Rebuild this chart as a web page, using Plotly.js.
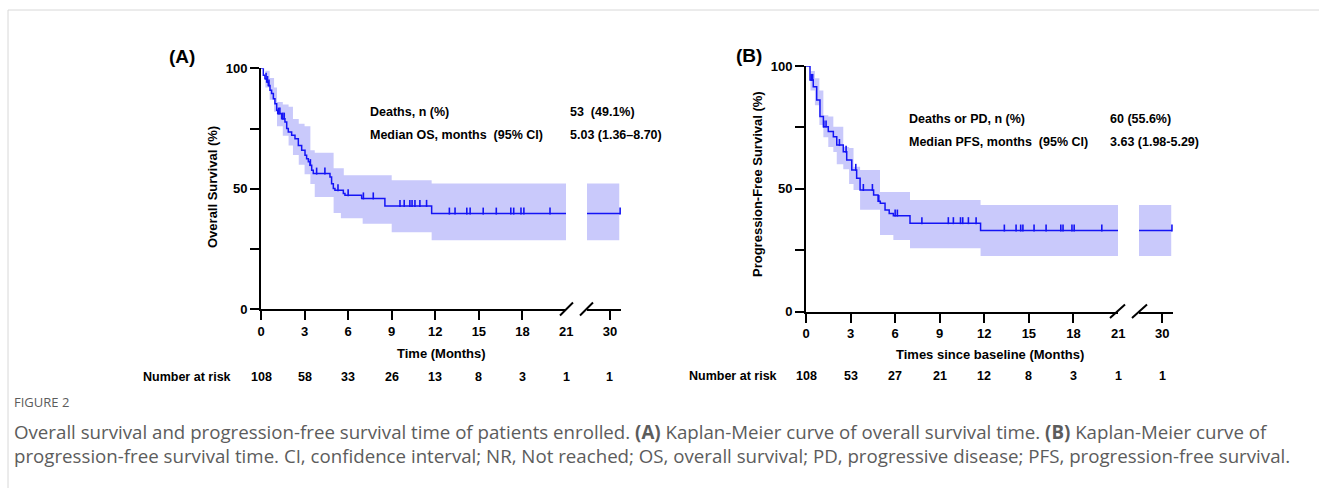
<!DOCTYPE html>
<html>
<head>
<meta charset="utf-8">
<script src="https://cdn.plot.ly/plotly-3.0.1.min.js"></script>
<style>html,body{margin:0;padding:0;background:#fff;}#chart{width:1319px;height:488px;}</style>
</head>
<body>
<div id="chart"></div>
<script>
// ---------- Panel A: overall survival ----------
const osTime = [0, 0.16, 0.27, 0.39, 0.50, 0.62, 0.73, 0.85, 0.96, 1.08, 1.15, 1.42, 1.65, 1.77, 1.88, 2.11, 2.34, 2.57, 2.80, 3.03, 3.14, 3.26, 3.37, 3.49, 3.60, 4.75, 4.86, 4.98, 5.09, 5.67, 5.78, 6.93, 8.53, 11.75, 30.7];
const osSurv = [100, 97.1, 95.7, 94.3, 92.9, 90.9, 89.5, 87.4, 85.3, 82.6, 81.2, 79.1, 77.7, 75.0, 73.6, 72.2, 70.8, 68.0, 66.0, 63.9, 62.5, 61.2, 59.8, 57.7, 56.3, 54.9, 52.1, 50.1, 49.4, 48.0, 47.3, 46.0, 42.9, 39.7, 39.7];
const osCiTime  = [0, 0.3, 0.6, 0.9, 1.1, 1.5, 1.9, 2.2, 2.6, 3.0, 3.4, 3.7, 4.6, 5.0, 5.5, 5.7, 7.0, 9.0, 11.75, 30.64];
const osCiUpper = [100, 99, 96, 92, 86, 85, 84, 79, 77, 76, 66, 65, 65, 58.5, 58.5, 55.6, 55.6, 53.5, 52.2, 52.2];
const osCiLower = [100, 92, 87, 82, 76, 72, 68, 64, 60, 56, 52, 46.6, 46.6, 40, 37.8, 37.8, 35.5, 32, 28.6, 28.6];
const osCensTime = [0.35, 0.45, 0.55, 1.2, 1.3, 1.5, 1.6, 3.4, 3.83, 4.4, 5.3, 6.0, 7.05, 7.73, 9.57, 9.86, 10.25, 10.4, 10.6, 10.94, 11.4, 12.97, 13.36, 14.17, 14.4, 15.3, 16.2, 17.2, 17.4, 17.9, 18.1, 19.9, 30.7];
const osCensSurv = [95.7, 94.3, 92.9, 81.2, 81.2, 79.1, 79.1, 59.8, 56.3, 56.3, 49.4, 47.3, 46.0, 46.0, 42.9, 42.9, 42.9, 42.9, 42.9, 42.9, 42.9, 39.7, 39.7, 39.7, 39.7, 39.7, 39.7, 39.7, 39.7, 39.7, 39.7, 39.7, 39.7];
const osRiskTimes = [0, 3, 6, 9, 12, 15, 18, 21, 30];
const osAtRisk = [108, 58, 33, 26, 13, 8, 3, 1, 1];

// ---------- Panel B: progression-free survival ----------
const pfsTime = [0, 0.27, 0.49, 0.72, 0.94, 1.17, 1.5, 1.84, 2.07, 2.51, 2.74, 3.08, 3.41, 3.64, 4.55, 4.85, 5.0, 5.32, 5.6, 5.88, 7.0, 11.75, 30.65];
const pfsSurv = [100, 94.3, 91.6, 86.2, 79.4, 75.3, 73.3, 71.2, 67.8, 65.1, 61.7, 57.7, 54.3, 49.5, 47.5, 45.0, 44.1, 41.4, 40.0, 39.1, 36.0, 33.0, 33.0];
const pfsCiTime  = [0, 0.3, 0.6, 0.9, 1.17, 1.5, 1.84, 2.07, 2.51, 2.9, 3.2, 3.64, 4.98, 5.88, 7.0, 11.75, 30.6];
const pfsCiUpper = [100, 98, 95, 90, 80, 79.4, 75.3, 75.3, 67, 66.6, 59, 57.7, 48.7, 48.7, 45.5, 43.4, 43.4];
const pfsCiLower = [100, 90, 84, 76, 71, 67, 65, 60, 58, 52, 49.5, 41.5, 31.2, 29.2, 25.8, 22.7, 22.7];
const pfsCensTime = [0.35, 0.45, 1.2, 1.35, 2.25, 2.7, 3.35, 3.86, 4.47, 4.9, 6.0, 6.15, 7.8, 9.58, 9.92, 10.4, 10.55, 10.93, 11.45, 13.35, 14.14, 14.45, 14.6, 15.35, 16.16, 17.15, 17.3, 17.9, 18.05, 19.91, 30.65];
const pfsCensSurv = [94.3, 94.3, 75.3, 75.3, 67.8, 65.1, 57.7, 49.5, 49.5, 45.0, 39.1, 39.1, 36, 36, 36, 36, 36, 36, 36, 33, 33, 33, 33, 33, 33, 33, 33, 33, 33, 33, 33];
const pfsRiskTimes = [0, 3, 6, 9, 12, 15, 18, 21, 30];
const pfsAtRisk = [108, 53, 27, 21, 12, 8, 3, 1, 1];

const xTicks = [0, 3, 6, 9, 12, 15, 18];
const yTicks = [0, 25, 50, 75, 100];
const yTickText = ['0', '', '50', '', '100'];

// ---------- helpers ----------
const W = 1319, H = 488;
const PX = x => x / W;
const PY = y => 1 - y / H;
const BLUE = '#1414f5';
const BAND = '#c9c9fb';
const FONT = 'Liberation Sans, Arial, Helvetica, sans-serif';
const NB = '\u00A0';
const TICK_LIFT = 1.05; // censor ticks drawn just above the curve (in % units)

function panelTraces(t, s, ct, cu, cl, kt, ks, xa, ya) {
  return [
    {x: ct, y: cl, xaxis: xa, yaxis: ya, type: 'scatter', mode: 'lines', line: {shape: 'hv', width: 0, color: 'rgba(0,0,0,0)'}, hoverinfo: 'skip'},
    {x: ct, y: cu, xaxis: xa, yaxis: ya, type: 'scatter', mode: 'lines', fill: 'tonexty', fillcolor: BAND, line: {shape: 'hv', width: 0, color: 'rgba(0,0,0,0)'}, hoverinfo: 'skip'},
    {x: t, y: s, xaxis: xa, yaxis: ya, type: 'scatter', mode: 'lines', line: {shape: 'hv', width: 1.5, color: BLUE}},
    {x: kt, y: ks.map(v => v + TICK_LIFT), xaxis: xa, yaxis: ya, type: 'scatter', mode: 'markers', marker: {symbol: 'line-ns-open', size: 5, color: BLUE, line: {width: 1.6, color: BLUE}}, cliponaxis: false}
  ];
}

const data = [].concat(
  panelTraces(osTime, osSurv, osCiTime, osCiUpper, osCiLower, osCensTime, osCensSurv, 'x', 'y'),
  panelTraces(osTime, osSurv, osCiTime, osCiUpper, osCiLower, osCensTime, osCensSurv, 'x2', 'y'),
  panelTraces(pfsTime, pfsSurv, pfsCiTime, pfsCiUpper, pfsCiLower, pfsCensTime, pfsCensSurv, 'x3', 'y2'),
  panelTraces(pfsTime, pfsSurv, pfsCiTime, pfsCiUpper, pfsCiLower, pfsCensTime, pfsCensSurv, 'x4', 'y2')
);

const tickFont = {family: FONT, size: 13, color: '#000', weight: 'bold'};
function xAxis(domain, range, vals, anchor) {
  return {domain: domain, range: range, anchor: anchor, tickvals: vals, ticktext: vals.map(String),
    showline: true, linewidth: 2, linecolor: '#000', ticks: 'outside', ticklen: 9, tickwidth: 2, tickcolor: '#000',
    showgrid: false, zeroline: false, fixedrange: true, tickfont: tickFont};
}
function yAxis(domain, anchor) {
  return {domain: domain, range: [0, 100], anchor: anchor, tickvals: yTicks, ticktext: yTickText,
    showline: true, linewidth: 2, linecolor: '#000', ticks: 'outside', ticklen: 9, tickwidth: 2, tickcolor: '#000',
    showgrid: false, zeroline: false, fixedrange: true, tickfont: tickFont};
}

const ann = [];
const bold = (size) => ({family: FONT, size: size, color: '#000', weight: 'bold'});
function txt(x, y, text, opts) {
  ann.push(Object.assign({x: x, y: y, xref: 'paper', yref: 'paper', text: text, showarrow: false,
    xanchor: 'center', yanchor: 'middle', font: bold(12.5)}, opts || {}));
}
// panel letters
txt(PX(182), PY(56), '(A)', {font: bold(19)});
txt(PX(749), PY(55), '(B)', {font: bold(19)});
// stats
txt(PX(368), PY(112), 'Deaths, n (%)', {xanchor: 'left'});
txt(PX(568), PY(112), '53' + NB + NB + '(49.1%)', {xanchor: 'left'});
txt(PX(368), PY(135), 'Median OS, months' + NB + NB + '(95% CI)', {xanchor: 'left'});
txt(PX(568), PY(135), '5.03 (1.36–8.70)', {xanchor: 'left'});
txt(PX(907), PY(119), 'Deaths or PD, n (%)', {xanchor: 'left'});
txt(PX(1108), PY(119), '60 (55.6%)', {xanchor: 'left'});
txt(PX(907), PY(142), 'Median PFS, months' + NB + NB + '(95% CI)', {xanchor: 'left'});
txt(PX(1108), PY(142), '3.63 (1.98-5.29)', {xanchor: 'left'});
// axis titles
txt(PX(212), PY(187), 'Overall Survival (%)', {textangle: -90, font: bold(13)});
txt(PX(757), PY(184), 'Progression-Free Survival (%)', {textangle: -90, font: bold(13)});
txt(PX(441), PY(353), 'Time (Months)', {font: bold(13)});
txt(PX(990), PY(354), 'Times since baseline (Months)', {font: bold(13)});
// 21 labels (no tick mark at the break)
ann.push({x: 21, xref: 'x', y: PY(331), yref: 'paper', text: '21', showarrow: false, font: tickFont, xanchor: 'center', yanchor: 'middle'});
ann.push({x: 21, xref: 'x3', y: PY(333), yref: 'paper', text: '21', showarrow: false, font: tickFont, xanchor: 'center', yanchor: 'middle'});
// number at risk
txt(PX(233), PY(377), 'Number at risk', {xanchor: 'right'});
txt(PX(687), PY(376), 'Number at risk', {xanchor: 'left'});
osRiskTimes.forEach((t, i) => ann.push({x: t, xref: t > 21 ? 'x2' : 'x', y: PY(377), yref: 'paper', text: String(osAtRisk[i]),
  showarrow: false, xanchor: 'center', yanchor: 'middle', font: bold(12.5)}));
pfsRiskTimes.forEach((t, i) => ann.push({x: t, xref: t > 21 ? 'x4' : 'x3', y: PY(376), yref: 'paper', text: String(pfsAtRisk[i]),
  showarrow: false, xanchor: 'center', yanchor: 'middle', font: bold(12.5)}));
// caption
const CAP = 'Open Sans, Noto Sans, sans-serif';
const CAPCOL = '#5c5c5c';
txt(PX(12), PY(402), 'FIGURE 2', {xanchor: 'left', font: {family: CAP, size: 13, color: CAPCOL, weight: 'normal'}});
txt(PX(12), PY(431), 'Overall survival and progression-free survival time of patients enrolled. <b>(A)</b> Kaplan-Meier curve of overall survival time. <b>(B)</b> Kaplan-Meier curve of',
  {xanchor: 'left', font: {family: CAP, size: 18.7, color: CAPCOL, weight: 'normal'}});
txt(PX(12), PY(455), 'progression-free survival time. CI, confidence interval; NR, Not reached; OS, overall survival; PD, progressive disease; PFS, progression-free survival.',
  {xanchor: 'left', font: {family: CAP, size: 18.7, color: CAPCOL, weight: 'normal'}});

// axis break slashes and frame
const shapes = [
  {type: 'rect', xref: 'paper', yref: 'paper', x0: PX(8), y0: PY(10), x1: PX(1330), y1: PY(500), line: {color: '#d8d8d8', width: 1}},
  {type: 'line', xref: 'paper', yref: 'paper', x0: PX(560), y0: PY(315.5), x1: PX(573), y1: PY(302.5), line: {color: '#000', width: 2}},
  {type: 'line', xref: 'paper', yref: 'paper', x0: PX(580), y0: PY(315.5), x1: PX(593), y1: PY(302.5), line: {color: '#000', width: 2}},
  {type: 'line', xref: 'paper', yref: 'paper', x0: PX(1110), y0: PY(318), x1: PX(1125), y1: PY(304.5), line: {color: '#000', width: 2}},
  {type: 'line', xref: 'paper', yref: 'paper', x0: PX(1132), y0: PY(318), x1: PX(1147), y1: PY(304.5), line: {color: '#000', width: 2}}
];

const layout = {
  width: W, height: H, margin: {l: 0, r: 0, t: 0, b: 0},
  paper_bgcolor: '#fff', plot_bgcolor: 'rgba(0,0,0,0)', showlegend: false,
  font: {family: FONT, size: 12, color: '#000'},
  xaxis: xAxis([PX(261), PX(566)], [0, 21], xTicks, 'y'),
  xaxis2: xAxis([PX(587), PX(621)], [28.42, 30.76], [30], 'y'),
  yaxis: yAxis([PY(309.3), PY(68.3)], 'x'),
  xaxis3: xAxis([PX(806), PX(1118)], [0, 21], xTicks, 'y2'),
  xaxis4: xAxis([PX(1139), PX(1173)], [28.43, 30.72], [30], 'y2'),
  yaxis2: yAxis([PY(311.7), PY(66)], 'x3'),
  annotations: ann, shapes: shapes
};

Plotly.newPlot('chart', data, layout, {staticPlot: true, displayModeBar: false});
</script>
</body>
</html>
